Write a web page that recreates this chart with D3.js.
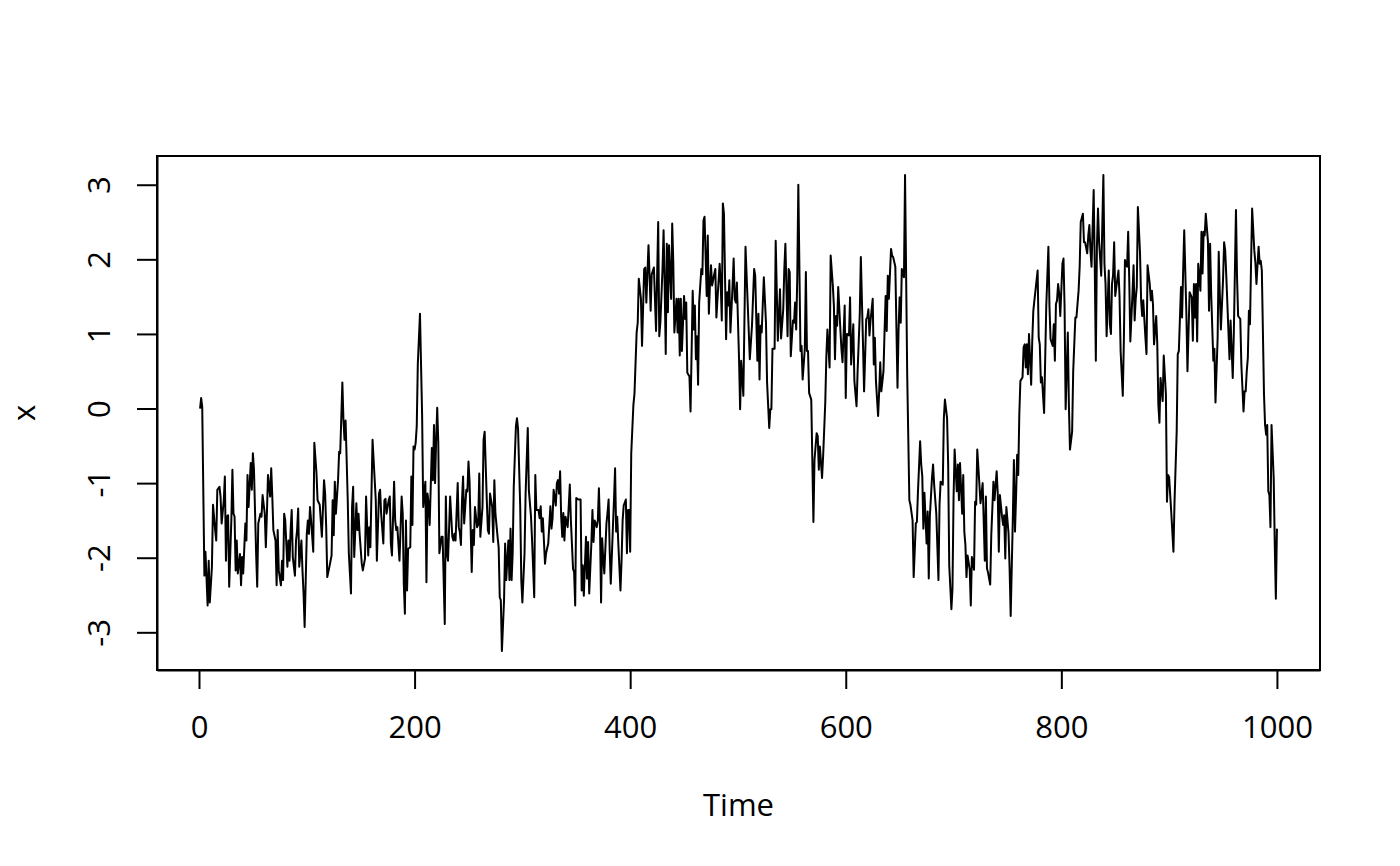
<!DOCTYPE html>
<html>
<head>
<meta charset="utf-8">
<script src="https://cdn.jsdelivr.net/npm/d3@7"></script>
<style>
  body { margin: 0; background: #fff; }
  svg text { font-family: "Open Sans", sans-serif; fill: #000; }
</style>
</head>
<body>
<svg id="chart" width="1400" height="866"></svg>
<script>
// [time, x] pairs, one array per stretch of 100 steps
const part1 = [[1,0.00],[2,0.14],[3,0.02],[5,-2.24],[6,-1.92],[8,-2.64],[9,-2.04],[10,-2.60],[12,-2.12],[13,-1.29],[15,-1.63],[16,-1.77],[17,-1.09],[19,-1.05],[20,-1.18],[21,-1.54],[23,-1.23],[24,-0.91],[25,-2.04],[26,-1.45],[27,-1.43],[28,-2.39],[30,-1.50],[31,-0.82],[32,-1.41],[33,-1.45],[34,-2.17],[35,-1.77],[36,-2.21],[38,-1.95],[39,-2.37],[40,-1.99],[41,-2.21],[43,-1.54],[44,-1.77],[45,-0.89],[46,-1.32],[48,-0.73],[49,-1.09],[50,-0.60],[51,-0.82],[53,-1.95],[54,-2.39],[55,-1.54],[57,-1.41],[58,-1.45],[59,-1.16],[61,-1.41],[62,-1.86],[63,-1.41],[64,-0.89],[66,-1.18],[67,-0.80],[68,-1.18],[69,-1.63],[71,-1.77],[72,-2.37],[73,-1.63],[74,-2.17],[76,-2.37],[77,-2.04],[78,-2.30],[79,-1.41],[80,-1.50],[82,-2.12],[83,-1.77],[84,-2.04],[85,-1.63],[86,-1.36],[87,-1.99],[89,-2.24],[90,-1.77],[91,-1.63],[92,-1.34],[93,-2.12],[95,-1.77],[96,-2.17],[97,-2.48],[98,-2.93]];
const part2 = [[100,-1.68],[101,-1.50],[102,-1.68],[103,-1.32],[104,-1.50],[106,-1.92],[107,-0.46],[109,-0.87],[110,-1.23],[112,-1.29],[114,-1.72],[116,-0.96],[117,-1.14],[118,-1.59],[119,-2.26],[121,-2.12],[123,-1.97],[124,-1.23],[125,-1.70],[126,-0.98],[127,-1.41],[129,-0.96],[130,-0.58],[131,-0.60],[133,0.35],[134,-0.15],[135,-0.42],[136,-0.16],[138,-1.23],[139,-1.94],[141,-2.48],[142,-1.32],[143,-1.05],[144,-1.99],[146,-1.27],[147,-1.63],[148,-1.41],[149,-1.68],[151,-2.08],[152,-2.17],[154,-2.01],[155,-1.18],[157,-1.97],[158,-1.59],[159,-1.86],[161,-0.42],[162,-0.69],[164,-1.23],[165,-2.04],[167,-1.14],[168,-1.09],[169,-1.41],[171,-1.81],[172,-1.23],[173,-1.21],[174,-1.41],[176,-1.23],[177,-1.18],[178,-1.81],[179,-1.97],[181,-0.98],[182,-1.50],[183,-1.63],[184,-1.59],[186,-2.04],[188,-1.18],[189,-1.41],[190,-2.35],[191,-2.75],[192,-1.50],[193,-2.44],[194,-1.88],[196,-1.86],[197,-0.91],[198,-1.56],[199,-0.51]];
const part3 = [[200,-0.55],[201,-0.46],[202,-0.24],[203,0.60],[205,1.27],[207,-0.10],[208,-1.32],[210,-0.98],[211,-2.33],[212,-1.14],[213,-1.27],[214,-1.56],[216,-0.53],[217,-0.96],[218,-0.22],[219,-1.00],[220,-0.42],[221,0.01],[222,-0.46],[223,-1.94],[225,-1.72],[226,-1.72],[228,-2.89],[229,-1.18],[230,-1.94],[231,-2.04],[233,-1.18],[235,-1.72],[236,-1.77],[237,-1.68],[238,-1.77],[240,-1.00],[241,-1.59],[242,-1.66],[243,-1.83],[244,-1.23],[245,-0.91],[246,-1.54],[248,-1.09],[249,-1.11],[250,-0.71],[251,-0.98],[253,-2.19],[254,-1.63],[255,-1.83],[256,-1.32],[258,-1.59],[259,-1.56],[260,-0.87],[261,-1.72],[263,-1.32],[264,-0.42],[265,-0.31],[267,-1.23],[268,-1.63],[269,-1.68],[270,-1.14],[272,-1.32],[273,-1.79],[274,-0.96],[275,-1.41],[277,-1.72],[278,-1.86],[279,-2.53],[280,-2.57],[281,-3.25],[283,-2.57],[284,-1.81],[285,-2.30],[287,-1.77],[288,-2.30],[289,-1.61],[290,-2.30],[291,-1.94],[292,-1.05],[294,-0.24],[295,-0.13],[296,-0.28],[298,-1.32],[299,-2.30]];
const part4 = [[300,-2.60],[302,-1.94],[303,-1.14],[305,-0.26],[306,-1.09],[308,-1.45],[309,-1.77],[311,-2.53],[312,-0.89],[313,-1.36],[315,-1.36],[316,-1.47],[317,-1.31],[318,-1.65],[319,-1.47],[321,-2.08],[322,-1.94],[324,-1.81],[326,-1.31],[327,-1.61],[328,-1.47],[329,-1.09],[331,-1.30],[332,-1.00],[333,-0.96],[334,-1.14],[335,-0.84],[336,-1.45],[337,-1.72],[338,-1.40],[339,-1.77],[340,-1.45],[342,-1.59],[343,-1.31],[344,-1.02],[345,-1.50],[347,-2.15],[348,-2.19],[349,-2.64],[350,-1.20],[352,-1.22],[353,-1.22],[354,-1.22],[355,-2.44],[356,-2.10],[357,-2.51],[359,-1.72],[360,-2.28],[361,-1.79],[362,-2.48],[364,-1.81],[365,-1.36],[366,-1.79],[367,-1.50],[369,-1.59],[370,-1.50],[371,-1.07],[372,-1.59],[373,-2.60],[374,-1.74],[375,-2.01],[376,-2.21],[378,-1.54],[379,-1.40],[380,-1.22],[381,-1.90],[382,-2.35],[384,-1.59],[385,-1.22],[386,-0.80],[387,-1.65],[388,-1.45],[389,-1.81],[391,-2.44],[392,-2.04],[393,-1.50],[394,-1.30],[396,-1.22],[397,-1.94],[398,-1.36],[399,-1.36]];
const part5 = [[400,-1.92],[401,-0.60],[403,0.05],[404,0.20],[406,1.02],[407,1.15],[408,1.74],[410,1.47],[411,0.84],[413,1.87],[414,1.89],[415,1.42],[417,2.19],[418,1.78],[419,1.31],[420,1.80],[422,1.89],[423,1.47],[424,1.04],[426,2.50],[427,0.97],[428,1.15],[430,1.87],[431,2.39],[432,1.65],[433,0.73],[434,2.21],[435,1.29],[436,2.19],[438,1.47],[439,2.48],[440,1.96],[441,1.02],[443,1.47],[444,1.02],[445,1.47],[446,0.71],[447,1.47],[448,0.77],[450,1.51],[451,1.20],[452,1.42],[453,0.48],[455,0.43],[456,-0.04],[458,1.58],[459,1.06],[460,1.38],[461,0.66],[462,0.97],[463,0.32],[464,1.42],[466,1.87],[467,1.80],[468,2.52],[469,2.57],[471,1.51],[472,2.32],[473,1.27],[474,1.65],[475,1.92],[476,1.65],[478,1.80],[479,1.87],[480,1.22],[481,1.47],[483,1.94],[484,1.67],[485,1.18],[486,2.75],[487,2.61],[489,0.93],[490,1.56],[491,1.38],[492,1.72],[493,1.02],[495,1.65],[496,2.01],[497,1.47],[498,1.42],[499,1.69]];
const part6 = [[501,0.66],[502,-0.01],[503,0.64],[505,0.17],[507,2.17],[509,1.42],[511,0.66],[513,1.11],[515,1.87],[516,1.78],[518,0.64],[519,1.27],[520,0.39],[521,1.11],[522,1.02],[524,1.76],[526,1.15],[527,0.35],[529,-0.26],[530,-0.01],[531,-0.01],[532,0.80],[534,0.80],[535,2.25],[537,0.91],[539,1.60],[540,0.94],[542,1.33],[543,1.87],[544,2.21],[546,0.97],[547,1.87],[548,1.83],[549,0.70],[551,1.18],[552,1.15],[553,1.42],[554,1.06],[555,1.74],[556,3.00],[558,0.77],[559,0.84],[560,0.39],[562,0.80],[563,1.83],[564,0.77],[565,0.77],[566,0.21],[568,0.12],[570,-1.52],[571,-0.69],[573,-0.33],[574,-0.37],[575,-0.82],[576,-0.51],[578,-0.93],[579,-0.64],[581,0.08],[582,0.70],[583,1.06],[585,0.55],[586,2.05],[588,1.65],[589,1.38],[590,0.66],[591,1.24],[592,1.11],[593,1.63],[595,1.06],[596,0.80],[597,0.62],[599,1.38]];
const part7 = [[600,0.14],[601,1.00],[603,0.98],[604,1.49],[605,0.59],[607,1.13],[608,0.37],[610,0.03],[611,0.50],[613,1.27],[614,2.03],[616,0.86],[617,0.23],[619,1.20],[620,1.22],[621,1.33],[622,0.98],[623,1.18],[625,1.47],[626,0.59],[627,0.95],[628,0.37],[630,-0.10],[631,0.23],[632,0.62],[633,0.23],[635,0.50],[636,1.04],[637,1.51],[638,1.04],[639,1.78],[640,1.47],[642,2.14],[643,2.05],[644,2.03],[646,1.90],[648,0.28],[649,1.06],[650,1.49],[651,1.15],[652,1.87],[654,1.76],[655,3.13],[657,0.46],[659,-1.23],[660,-1.29],[662,-1.50],[663,-2.26],[665,-1.54],[666,-1.52],[667,-1.11],[669,-0.44],[670,-0.75],[671,-0.91],[672,-1.61],[673,-1.13],[675,-1.81],[676,-1.38],[677,-2.28],[678,-1.45],[680,-0.93],[681,-0.75],[682,-1.02],[684,-1.41],[686,-2.30],[687,-1.29],[688,-0.98],[690,-1.02],[691,-0.13],[692,0.12],[694,-0.13],[695,-0.75],[696,-2.10],[698,-2.69],[699,-2.42]];
const part8 = [[700,-1.20],[701,-0.55],[703,-1.11],[704,-0.75],[705,-1.23],[706,-0.73],[708,-1.41],[709,-0.89],[710,-1.65],[711,-1.83],[712,-2.26],[713,-1.97],[715,-2.16],[716,-2.64],[717,-1.99],[719,-2.16],[720,-1.25],[721,-1.29],[722,-0.55],[724,-1.02],[725,-1.27],[727,-1.00],[729,-2.04],[730,-1.18],[731,-2.14],[732,-2.20],[734,-2.36],[735,-1.70],[737,-0.98],[738,-1.23],[740,-0.84],[741,-1.14],[742,-1.92],[743,-1.16],[745,-1.45],[746,-1.56],[747,-1.43],[748,-2.01],[749,-1.32],[751,-1.67],[752,-2.14],[753,-2.78],[755,-1.47],[756,-0.69],[757,-1.65],[758,-1.18],[759,-0.62],[760,-0.89],[761,-0.08],[762,0.37],[764,0.42],[765,0.82],[766,0.86],[767,0.55],[768,0.86],[769,0.46],[770,1.00],[772,0.32],[773,0.90],[774,1.31],[775,1.45],[778,1.85],[779,0.95],[780,0.86],[781,0.35],[782,0.42],[784,-0.06],[786,1.36],[788,2.17],[789,1.36],[790,0.93],[792,0.84],[793,1.13],[794,0.64],[795,1.40],[796,1.45],[797,1.67],[798,1.54],[799,1.24]];
const part9 = [[801,1.94],[802,2.01],[803,1.36],[804,-0.01],[806,1.02],[807,0.05],[808,-0.55],[810,-0.31],[811,0.50],[813,1.22],[814,1.22],[816,1.58],[817,1.90],[818,2.50],[820,2.61],[821,2.23],[822,2.23],[824,2.08],[825,2.32],[826,2.46],[827,2.12],[828,1.90],[830,2.93],[831,1.90],[832,0.64],[833,2.17],[834,2.68],[835,2.24],[837,1.78],[839,3.13],[840,1.94],[841,1.67],[842,0.97],[844,1.85],[845,1.13],[846,1.00],[847,1.67],[848,1.79],[849,2.23],[850,1.51],[852,1.74],[853,1.85],[854,1.49],[855,0.77],[857,0.17],[858,0.91],[859,1.99],[861,1.90],[862,2.37],[863,1.72],[864,0.90],[866,1.54],[867,1.92],[868,1.18],[869,1.47],[870,1.63],[871,2.70],[873,2.08],[874,1.45],[875,1.24],[876,1.45],[878,0.95],[879,0.73],[880,1.92],[882,1.67],[883,1.45],[884,1.58],[885,1.40],[886,0.86],[888,1.24],[889,0.86],[890,0.05],[891,-0.19],[892,0.41],[894,0.10],[895,0.71],[897,0.19],[898,-1.25],[899,-0.89]];
const part10 = [[900,-0.92],[902,-1.40],[904,-1.92],[905,-1.25],[907,-0.31],[908,0.73],[909,0.77],[911,1.63],[912,1.22],[913,1.85],[914,2.39],[916,1.27],[917,0.50],[919,1.56],[921,1.49],[922,0.91],[923,1.67],[924,1.22],[925,1.67],[926,0.90],[927,1.94],[929,1.58],[930,2.37],[931,1.81],[932,2.37],[933,2.32],[934,2.61],[936,2.24],[937,1.31],[938,2.21],[939,1.54],[941,0.64],[942,0.80],[943,0.08],[945,0.95],[946,2.10],[947,1.54],[948,1.06],[950,1.72],[951,2.23],[952,2.12],[953,1.79],[955,1.04],[956,0.66],[957,1.18],[959,0.41],[960,1.00],[962,2.66],[963,1.76],[964,1.24],[966,1.20],[967,0.59],[969,-0.04],[970,0.23],[971,0.23],[972,0.50],[973,0.68],[974,1.31],[975,1.13],[976,1.94],[977,2.68],[979,2.12],[980,1.96],[981,1.67],[983,2.17],[984,1.94],[985,1.98],[986,1.85],[988,0.19],[989,-0.22],[990,-0.35],[991,-0.22],[992,-1.11],[993,-1.16],[994,-1.59],[995,-0.22],[997,-0.93],[998,-1.83],[999,-2.55],[1000,-1.61]];

const xTicks = [0, 200, 400, 600, 800, 1000];
const yTicks = [-3, -2, -1, 0, 1, 2, 3];
const xLabel = "Time";
const yLabel = "x";

const data = [].concat(part1, part2, part3, part4, part5, part6, part7, part8, part9, part10)
  .map(d => ({ t: d[0], v: d[1] }));

const svg = d3.select("#chart");
const plotLeft = 157, plotRight = 1320, plotTop = 156, plotBottom = 670;
const fontSize = 31;

// R style: 4% padding on each side of the data range
function padded(ext) {
  const p = (ext[1] - ext[0]) * 0.04;
  return [ext[0] - p, ext[1] + p];
}

const xScale = d3.scaleLinear()
  .domain(padded(d3.extent(data, d => d.t)))
  .range([plotLeft, plotRight]);

const yScale = d3.scaleLinear()
  .domain(padded(d3.extent(data, d => d.v)))
  .range([plotBottom, plotTop]);

const line = d3.line()
  .x(d => xScale(d.t))
  .y(d => yScale(d.v));

svg.append("path")
  .datum(data)
  .attr("fill", "none")
  .attr("stroke", "#000")
  .attr("stroke-width", 2)
  .attr("stroke-linejoin", "round")
  .attr("d", line);

// plot box
svg.append("rect")
  .attr("x", plotLeft)
  .attr("y", plotTop)
  .attr("width", plotRight - plotLeft)
  .attr("height", plotBottom - plotTop)
  .attr("fill", "none")
  .attr("stroke", "#000")
  .attr("stroke-width", 2);

const xAxis = svg.append("g")
  .attr("transform", "translate(0," + plotBottom + ")")
  .call(d3.axisBottom(xScale).tickValues(xTicks).tickSize(19).tickSizeOuter(0).tickFormat(d3.format("d")));

xAxis.selectAll("text")
  .attr("dy", null)
  .attr("y", 68)
  .attr("font-size", fontSize);

const yAxis = svg.append("g")
  .attr("transform", "translate(" + plotLeft + ",0)")
  .call(d3.axisLeft(yScale).tickValues(yTicks).tickSize(20).tickSizeOuter(0).tickFormat(d => d < 0 ? "-" + Math.abs(d) : d));

yAxis.selectAll("text")
  .attr("x", null)
  .attr("dy", null)
  .attr("text-anchor", "middle")
  .attr("transform", "translate(-47,0) rotate(-90)")
  .attr("font-size", fontSize);

svg.selectAll(".domain, .tick line")
  .attr("stroke", "#000")
  .attr("stroke-width", 2);

svg.append("text")
  .attr("x", (plotLeft + plotRight) / 2)
  .attr("y", 816)
  .attr("text-anchor", "middle")
  .attr("font-size", fontSize)
  .text(xLabel);

svg.append("text")
  .attr("transform", "translate(35," + (plotTop + plotBottom) / 2 + ") rotate(-90)")
  .attr("text-anchor", "middle")
  .attr("font-size", fontSize)
  .text(yLabel);
</script>
</body>
</html>
